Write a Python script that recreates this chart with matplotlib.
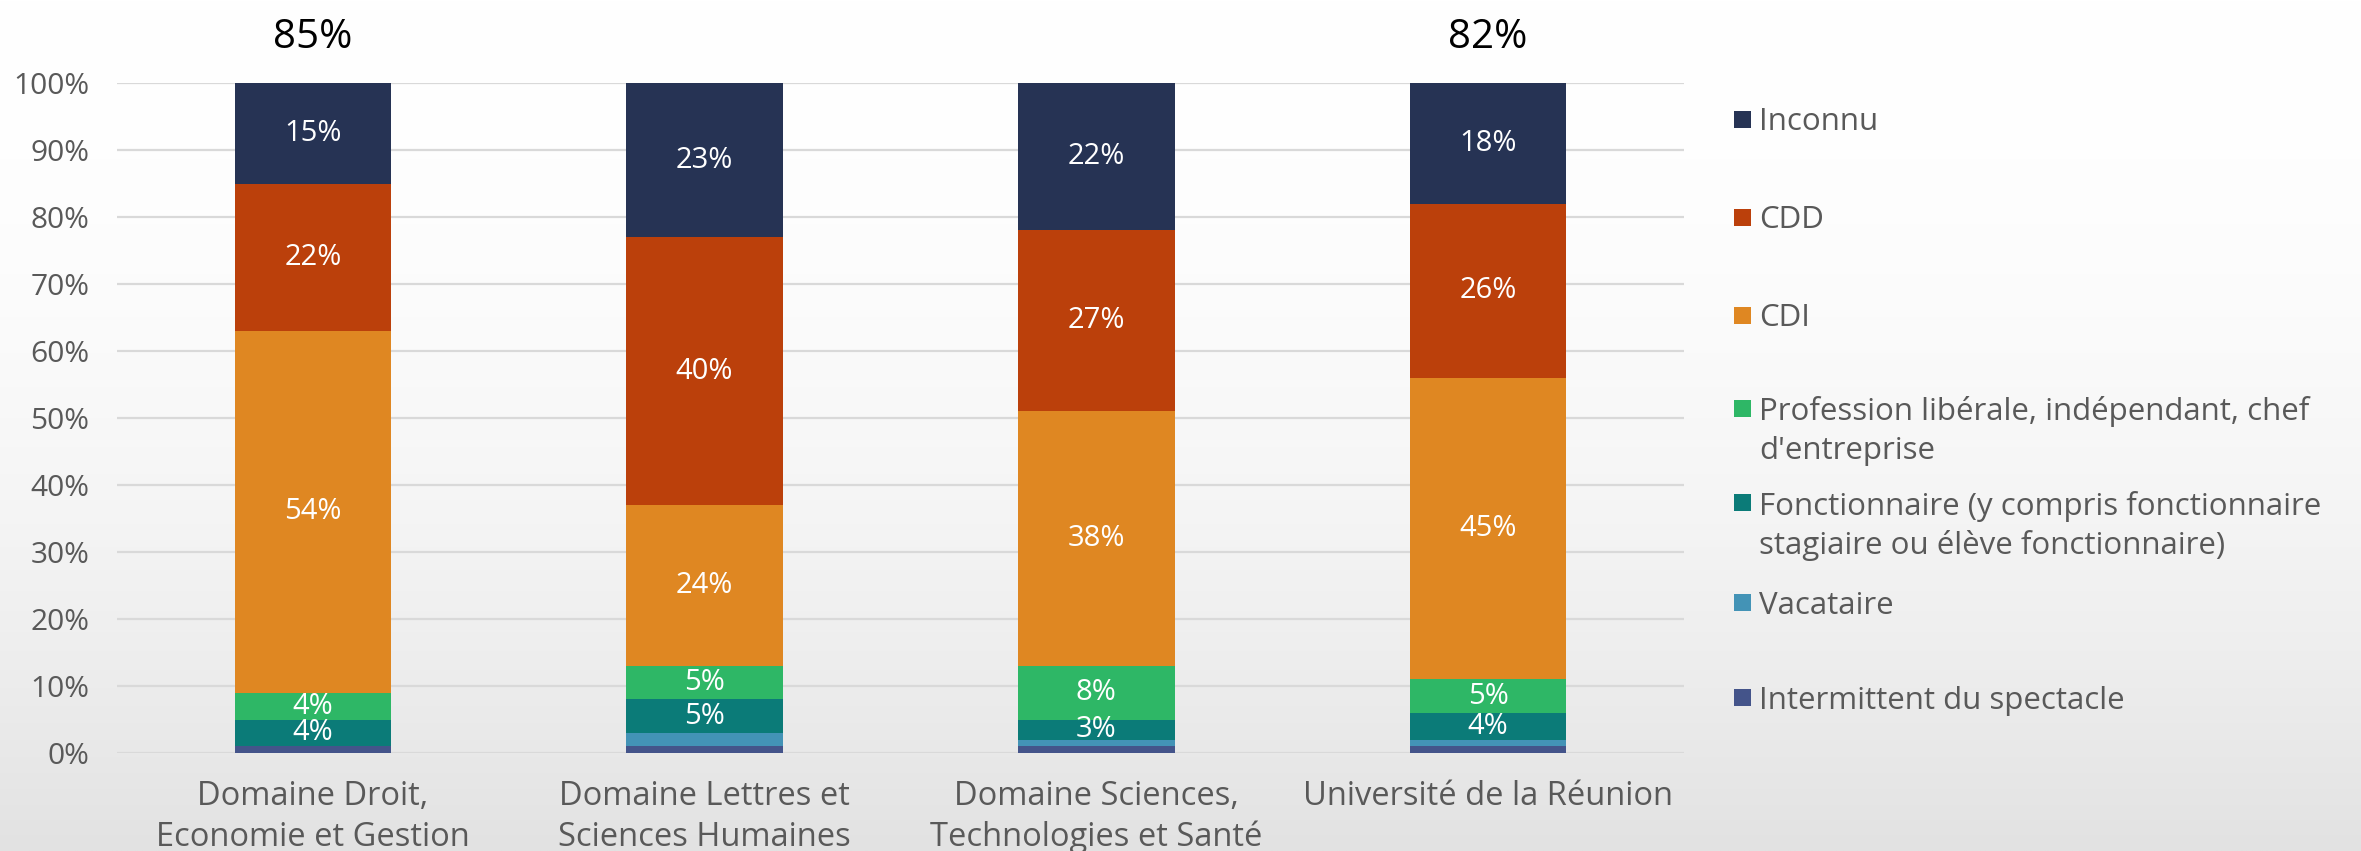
import matplotlib
matplotlib.use("Agg")
import matplotlib.pyplot as plt
import numpy as np
from matplotlib.patches import Rectangle

# ---------------- data ----------------
categories = ["Domaine Droit,\nEconomie et Gestion",
              "Domaine Lettres et\nSciences Humaines",
              "Domaine Sciences,\nTechnologies et Santé",
              "Université de la Réunion"]
series_names = ["Intermittent du spectacle",
                "Vacataire",
                "Fonctionnaire (y compris fonctionnaire\nstagiaire ou élève fonctionnaire)",
                "Profession libérale, indépendant, chef\nd'entreprise",
                "CDI",
                "CDD",
                "Inconnu"]
intermittent = [1, 1, 1, 1]
vacataire = [0, 2, 1, 1]
fonctionnaire = [4, 5, 3, 4]
profession = [4, 5, 8, 5]
cdi = [54, 24, 38, 45]
cdd = [22, 40, 27, 26]
inconnu = [15, 23, 22, 18]
top_labels = ["85%", "", "", "82%"]
ytick_values = [0, 10, 20, 30, 40, 50, 60, 70, 80, 90, 100]

series_values = [intermittent, vacataire, fonctionnaire, profession, cdi, cdd, inconnu]
colors = ["#44548a", "#4393b6", "#0b7b78", "#2eb766", "#df8722", "#bb400b", "#263354"]

# ---------------- figure ----------------
W, H = 2361, 851
fig = plt.figure(figsize=(W / 100, H / 100), dpi=100)

# background gradient
bg = fig.add_axes([0, 0, 1, 1], zorder=-10)
t = np.linspace(0, 1, 400) ** 2
grad = (1.0 - t * (255 - 226) / 255.0)[:, None] * np.ones((1, 10))
bg.imshow(np.dstack([grad, grad, grad]), aspect="auto", extent=[0, 1, 0, 1], origin="upper")
bg.axis("off")

FONT = "Open Sans"
TXT = "#595959"

left, right = 117 / W, 1684 / W
bottom, top = (H - 753) / H, (H - 83) / H
ax = fig.add_axes([left, bottom, right - left, top - bottom])
ax.set_facecolor("none")

x = np.arange(len(categories))
bottoms = np.zeros(len(categories))
for vals, col in zip(series_values, colors):
    vals = np.array(vals, dtype=float)
    ax.bar(x, vals, width=0.4, bottom=bottoms, color=col, linewidth=0, zorder=3)
    for xi, v, b in zip(x, vals, bottoms):
        if v >= 3:
            ax.text(xi, b + v / 2, f"{v:.0f}%", ha="center", va="center",
                    color="white", fontsize=21, family=FONT, zorder=4)
    bottoms += vals

for xi, lab in zip(x, top_labels):
    if lab:
        ax.text(xi, 105.2, lab, ha="center", va="baseline", fontsize=29,
                family="Open Sans", color="black", clip_on=False)

ax.set_xlim(-0.5, len(categories) - 0.5)
ax.set_ylim(0, 100)
ax.set_yticks(ytick_values)
ax.set_yticklabels([f"{v}%" for v in ytick_values])
ax.set_xticks(x)
ax.set_xticklabels(categories, linespacing=1.3)
ax.tick_params(axis="both", length=0, colors=TXT)
ax.tick_params(axis="y", pad=20, labelsize=21.5)
ax.tick_params(axis="x", pad=19.5, labelsize=23.5)
for lab in ax.get_xticklabels() + ax.get_yticklabels():
    lab.set_family(FONT)
for s in ax.spines.values():
    s.set_visible(False)
ax.yaxis.grid(True, color="#d9d9d9", linewidth=1.6, zorder=0)
ax.set_axisbelow(True)

# ---------------- legend (manual, top to bottom) ----------------
legend_centers = [119, 217, 315, 408, 503, 602, 697]
line_gap = 39.5
sq = 17
for name, col, cy in zip(series_names[::-1], colors[::-1], legend_centers):
    fig.patches.append(Rectangle(((1734) / W, 1 - (cy + sq / 2) / H), sq / W, sq / H,
                                 transform=fig.transFigure, facecolor=col,
                                 edgecolor="none", figure=fig))
    for k, line in enumerate(name.split("\n")):
        fig.text(1759 / W, 1 - (cy + 11.5 + k * line_gap) / H, line, ha="left",
                 va="baseline", fontsize=22.5, family=FONT, color=TXT)

fig.savefig("out.png", dpi=100)
